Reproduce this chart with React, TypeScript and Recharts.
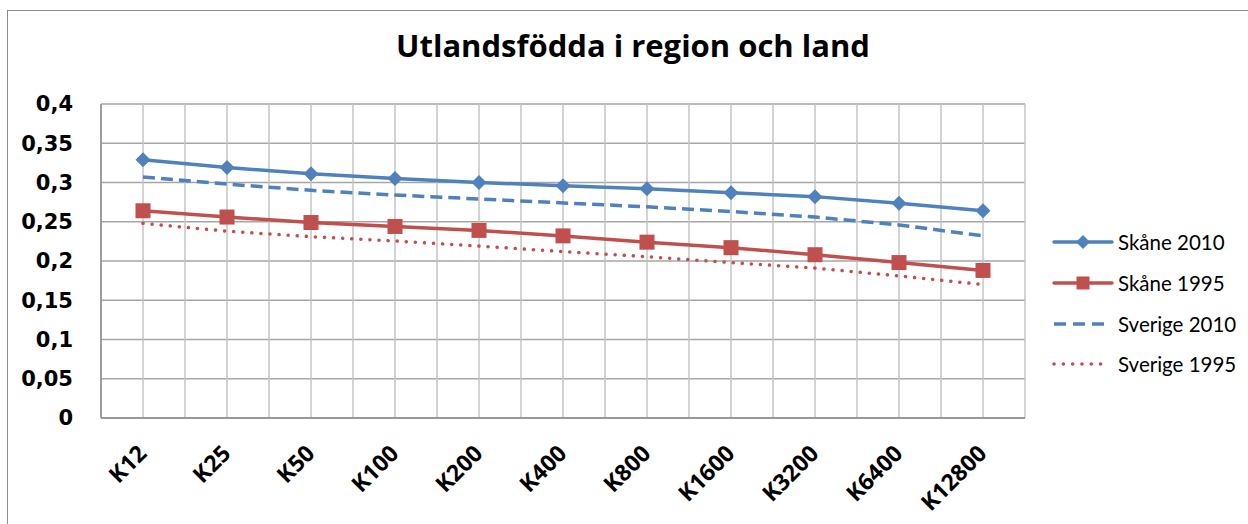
import { CartesianGrid, Legend, Line, LineChart, XAxis, YAxis } from "recharts";

const categories = ["K12", "K25", "K50", "K100", "K200", "K400", "K800", "K1600", "K3200", "K6400", "K12800"];
const skane2010 = [0.329, 0.319, 0.311, 0.305, 0.3, 0.296, 0.292, 0.287, 0.282, 0.2735, 0.264];
const skane1995 = [0.264, 0.256, 0.249, 0.244, 0.239, 0.232, 0.224, 0.217, 0.208, 0.198, 0.188];
const sverige2010 = [0.307, 0.298, 0.29, 0.284, 0.279, 0.274, 0.269, 0.263, 0.256, 0.246, 0.232];
const sverige1995 = [0.248, 0.238, 0.231, 0.2255, 0.219, 0.212, 0.2055, 0.198, 0.191, 0.181, 0.17];
const yTicks = [0, 0.05, 0.1, 0.15, 0.2, 0.25, 0.3, 0.35, 0.4];
const seriesOrder = ["skane2010", "skane1995", "sverige2010", "sverige1995"];

const BLUE = "#4F81BD";
const RED = "#C0504D";
const FONT = "'Open Sans', Lato, sans-serif";
const TICK_FONT = "'DejaVu Sans', 'Open Sans', sans-serif";
const LEGEND_FONT = "Lato, 'Open Sans', sans-serif";

const data = categories.map((name, i) => ({
  i,
  name,
  skane2010: skane2010[i],
  skane1995: skane1995[i],
  sverige2010: sverige2010[i],
  sverige1995: sverige1995[i],
}));

// gridlines at category centres and boundaries, like the Excel original
const xTicks = categories.flatMap((_, i) => [i - 0.5, i]).concat(categories.length - 0.5);

function Diamond({ cx, cy }: any) {
  if (cx == null || cy == null) return null;
  const r = 7.5;
  return <polygon points={`${cx},${cy - r} ${cx + r},${cy} ${cx},${cy + r} ${cx - r},${cy}`} fill={BLUE} />;
}

function Square({ cx, cy }: any) {
  if (cx == null || cy == null) return null;
  return <rect x={cx - 7.5} y={cy - 7.5} width={15} height={15} fill={RED} />;
}

function XTick({ x, y, payload }: any) {
  const v = payload.value;
  if (!Number.isInteger(v)) return null;
  const ax = x + 5;
  const ay = y + 37;
  return (
    <text x={ax} y={ay} textAnchor="end" transform={`rotate(-45, ${ax}, ${ay})`}
      fontFamily={FONT} fontWeight={700} fontSize={23} fill="#000">
      {categories[v]}
    </text>
  );
}

function LegendBox({ payload }: any) {
  const items = [...(payload || [])].sort(
    (a: any, b: any) => seriesOrder.indexOf(a.dataKey) - seriesOrder.indexOf(b.dataKey)
  );
  return (
    <div style={{ fontFamily: LEGEND_FONT, fontSize: 20.5, color: "#000" }}>
      {items.map((p: any) => {
        const key = p.dataKey;
        const color = p.color;
        return (
          <div key={key} style={{ display: "flex", alignItems: "center", height: 40.7 }}>
            <svg width={66} height={18}>
              {key === "skane2010" && (
                <>
                  <line x1={2} y1={9} x2={60} y2={9} stroke={color} strokeWidth={3.5} strokeLinecap="round" />
                  <polygon points="31,2 38,9 31,16 24,9" fill={color} />
                </>
              )}
              {key === "skane1995" && (
                <>
                  <line x1={2} y1={9} x2={60} y2={9} stroke={color} strokeWidth={3.5} strokeLinecap="round" />
                  <rect x={24.5} y={2.5} width={13} height={13} fill={color} />
                </>
              )}
              {key === "sverige2010" && (
                <line x1={2} y1={9} x2={52} y2={9} stroke={color} strokeWidth={3.5} strokeDasharray="12 7" />
              )}
              {key === "sverige1995" && (
                <line x1={2} y1={9} x2={54} y2={9} stroke={color} strokeWidth={3.5} strokeDasharray="0.1 9.2" strokeLinecap="round" />
              )}
            </svg>
            <span>{p.value}</span>
          </div>
        );
      })}
    </div>
  );
}

export default function App() {
  return (
    <div style={{ position: "fixed", left: 0, top: 0, width: 1248, height: 524, overflow: "hidden", background: "#fff" }}>
      <div style={{ position: "absolute", left: 7, top: 10, width: 1400, height: 700, border: "1.5px solid #8c8c8c" }} />
      <div style={{ position: "absolute", left: 0, top: 24, width: 1266, textAlign: "center", fontFamily: FONT, fontWeight: 700, fontSize: 31, color: "#000" }}>
        Utlandsfödda i region och land
      </div>
      <div style={{ position: "absolute", left: 0, top: 0 }}>
        <LineChart width={1248} height={524} data={data} margin={{ top: 104, right: 223, left: 0, bottom: 0 }}>
          <CartesianGrid vertical={false} stroke="#a6a6a6" strokeWidth={1.5} />
          <CartesianGrid horizontal={false} stroke="#c4c4c4" strokeWidth={1.5} />
          <XAxis dataKey="i" type="number" domain={[-0.5, categories.length - 0.5]} ticks={xTicks} interval={0}
            height={106} tickLine={false} tickSize={0} tickMargin={0} tick={<XTick />}
            axisLine={{ stroke: "#8c8c8c", strokeWidth: 1.5 }} />
          <YAxis domain={[0, 0.4]} ticks={yTicks} interval={0} width={101} tickLine={false} tickSize={0} tickMargin={28}
            tickFormatter={(v: number) => String(v).replace(".", ",")}
            tick={{ fontFamily: TICK_FONT, fontWeight: 700, fontSize: 21, fill: "#000" }}
            axisLine={{ stroke: "#8c8c8c", strokeWidth: 1.5 }} />
          <Legend layout="horizontal" verticalAlign="middle" align="center" width={200}
            wrapperStyle={{ left: 1052, top: 222 }} content={<LegendBox />} />
          <Line dataKey="skane2010" name="Skåne 2010" stroke={BLUE} strokeWidth={3.5} dot={<Diamond />} activeDot={false} isAnimationActive={false} />
          <Line dataKey="skane1995" name="Skåne 1995" stroke={RED} strokeWidth={3.5} dot={<Square />} activeDot={false} isAnimationActive={false} />
          <Line dataKey="sverige2010" name="Sverige 2010" stroke={BLUE} strokeWidth={3.5} strokeDasharray="12 6" dot={false} activeDot={false} isAnimationActive={false} />
          <Line dataKey="sverige1995" name="Sverige 1995" stroke={RED} strokeWidth={3.5} strokeDasharray="0.1 9" strokeLinecap="round" dot={false} activeDot={false} isAnimationActive={false} />
        </LineChart>
      </div>
    </div>
  );
}
